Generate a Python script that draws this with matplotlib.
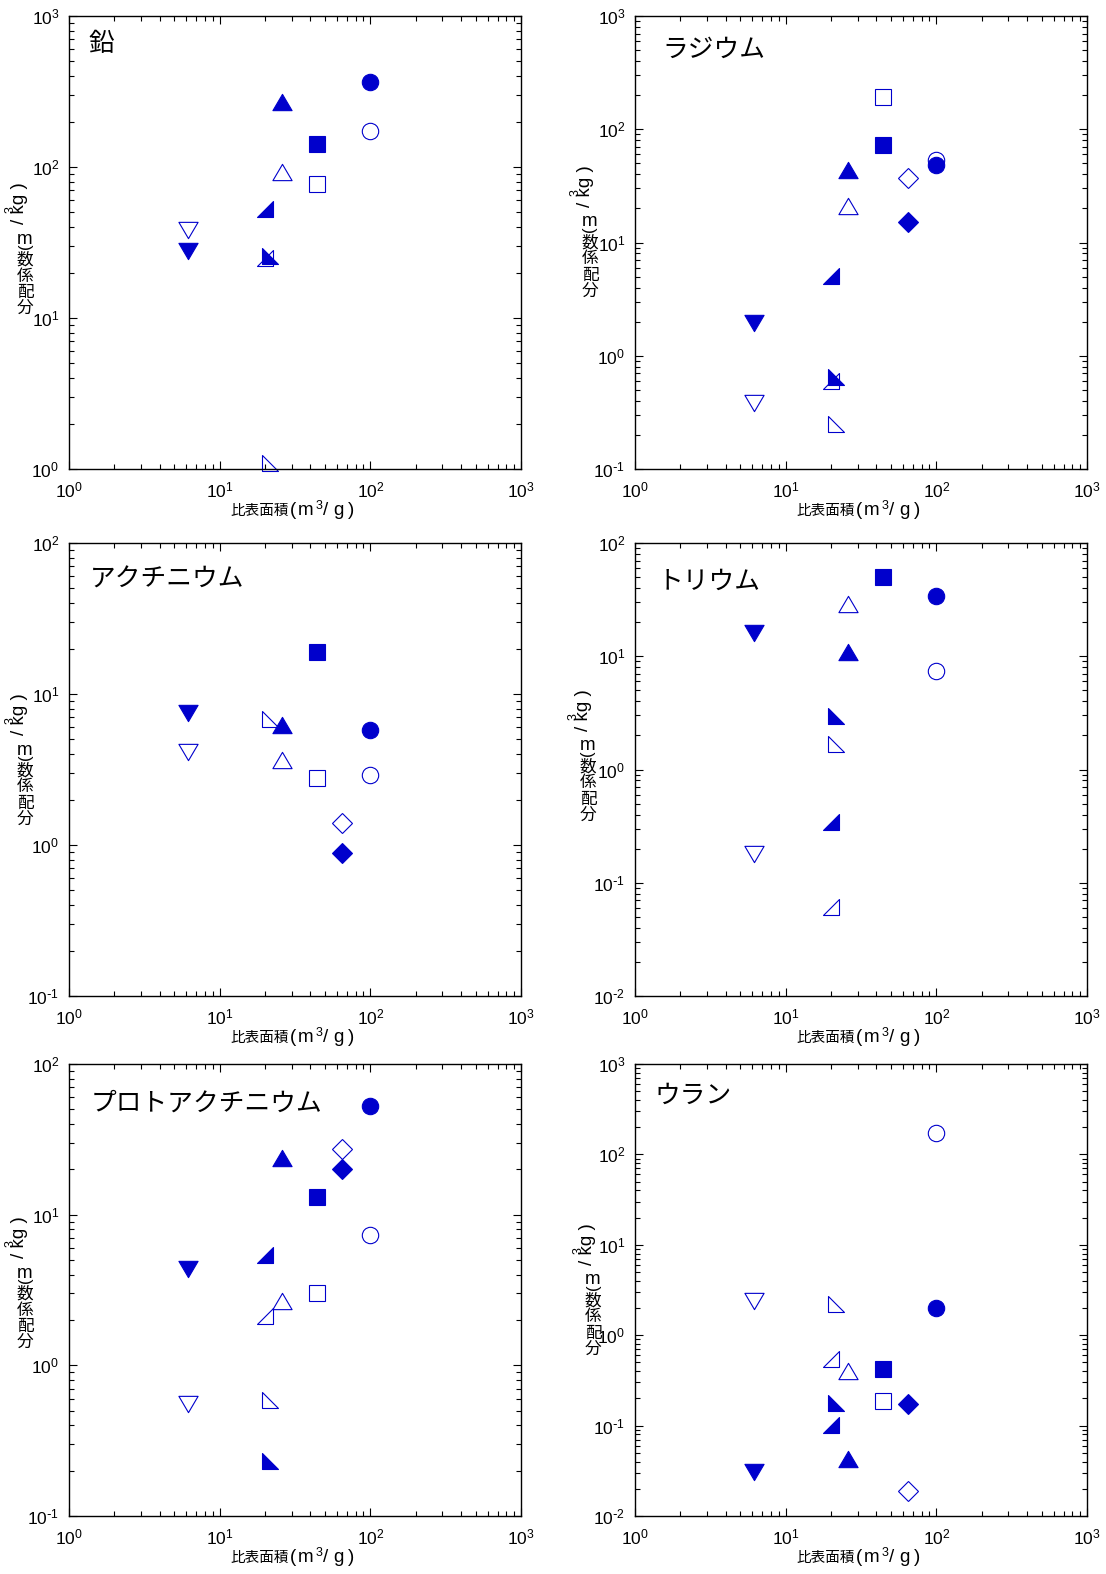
import numpy as np
import matplotlib
matplotlib.use('Agg')
import matplotlib.pyplot as plt
from matplotlib.path import Path
from matplotlib.ticker import LogLocator, NullFormatter, FuncFormatter

W, H = 1106, 1574
BLUE = '#0000CC'
JP = 'Noto Sans CJK JP'
LAT = 'Liberation Sans'

plt.rcParams['font.family'] = [LAT, JP]
plt.rcParams['axes.unicode_minus'] = False

# ---- data -------------------------------------------------------------
# marker order and the specific surface area (m3/g) each sample sits at
MARKERS = ['v', 'rt', 'lt', '^', 's', 'D', 'o']
SSA = [6.2, 20.0, 21.7, 26.0, 44.0, 65.0, 100.0]

ELEMENTS = ['鉛', 'ラジウム', 'アクチニウム', 'トリウム', 'プロトアクチニウム', 'ウラン']
YLIMS = [(1e0, 1e3), (1e-1, 1e3), (1e-1, 1e2), (1e-2, 1e2), (1e-1, 1e2), (1e-2, 1e3)]

# distribution coefficient (m3/kg), same order as MARKERS, None = no point
PB_FILLED = [27.8, 53.0, 25.8, 268, 141, None, 365]
PB_OPEN   = [38.3, 25.0, 1.09, 92, 77.5, None, 172]
RA_FILLED = [1.93, 5.05, 0.653, 44, 73, 15.2, 48.7]
RA_OPEN   = [0.385, 0.596, 0.248, 21, 191, 37.3, 54]
AC_FILLED = [7.5, None, None, 6.2, 18.9, 0.88, 5.8]
AC_OPEN   = [4.14, None, 6.86, 3.66, 2.78, 1.39, 2.91]
TH_FILLED = [16.2, 0.342, 2.98, 10.8, 49.9, None, 33.9]
TH_OPEN   = [0.178, 0.0607, 1.67, 28.8, None, None, 7.48]
PA_FILLED = [4.33, 5.37, 0.23, 23.7, 13.1, 20.0, 52.6]
PA_OPEN   = [0.556, 2.11, 0.59, 2.68, 3.0, 27.2, 7.3]
U_FILLED  = [0.0307, 0.102, 0.176, 0.0424, 0.426, 0.174, 2.02]
U_OPEN    = [2.42, 0.545, 2.2, 0.40, 0.186, 0.0189, 172]

FILLED = [PB_FILLED, RA_FILLED, AC_FILLED, TH_FILLED, PA_FILLED, U_FILLED]
OPEN = [PB_OPEN, RA_OPEN, AC_OPEN, TH_OPEN, PA_OPEN, U_OPEN]

# ---- layout (pixels) ---------------------------------------------------
COLS = [(69, 521), (635, 1087)]
ROWS = [(16, 469), (543, 996), (1064, 1516)]
TITLE_OFF = [(19, 28), (27, 34), (21, 37), (23, 39), (22, 40), (19, 32)]
YLAB_POS = [(25, 308), (590, 291), (25, 819), (588, 815), (25, 1342), (593, 1349)]

_C = Path.CLOSEPOLY
MSHAPES = {
    'v':  (Path([(0, -0.85), (-1, 0.85), (1, 0.85), (0, 0)], [1, 2, 2, _C]), 13.8),
    '^':  (Path([(0, 0.85), (-1, -0.85), (1, -0.85), (0, 0)], [1, 2, 2, _C]), 13.8),
    'rt': (Path([(-1, -1), (1, -1), (1, 1), (0, 0)], [1, 2, 2, _C]), 11.8),
    'lt': (Path([(-1, 1), (-1, -1), (1, -1), (0, 0)], [1, 2, 2, _C]), 11.8),
    's':  ('s', 11.8),
    'D':  ('D', 10.2),
    'o':  ('o', 11.8),
}


def fx(x):
    return x / W


def fy(y):
    return 1 - y / H


def pow10(v, pos):
    e = int(round(np.log10(v)))
    sup = r'\text{-}%d' % -e if e < 0 else '%d' % e
    return r'$\mathdefault{10^{%s}}$' % sup


def ylabel(fig, xc, y0):
    for i, c in enumerate(['分', '配', '係', '数']):
        fig.text(fx(xc), fy(y0 - i * 16), c, family=JP, size=12,
                 ha='center', va='center')
    fig.text(fx(xc), fy(y0 - 69), 'm', family=LAT, size=13.5,
             ha='center', va='center')
    fig.text(fx(xc), fy(y0 - 62), '(', family=LAT, size=12,
             rotation=90, ha='center', va='center')
    fig.text(fx(xc - 14), fy(y0 - 98), '3', family=LAT, size=9,
             rotation=90, ha='center', va='center')
    fig.text(fx(xc - 5), fy(y0 - 84), '/ kg )', family=LAT, size=13.5,
             rotation=90, ha='center', va='bottom')


def xlabel(fig, xc, yb):
    fig.text(fx(xc - 6), fy(yb), '比表面積', family=JP, size=10.5,
             ha='right', va='baseline')
    for ch, dx, sz, dy in [('(', -2, 13.5, 0), ('m', 10.5, 13.5, 0),
                           ('3', 23.5, 9, -6), ('/', 31, 13.5, 0),
                           ('g', 43, 13.5, 0), (')', 56, 13.5, 0)]:
        fig.text(fx(xc + dx), fy(yb + dy), ch, family=LAT, size=sz,
                 ha='center', va='baseline')


fig = plt.figure(figsize=(W / 100, H / 100), dpi=100)

for k, name in enumerate(ELEMENTS):
    r, c = divmod(k, 2)
    x0, x1 = COLS[c]
    y0, y1 = ROWS[r]
    ax = fig.add_axes([fx(x0), fy(y1), (x1 - x0) / W, (y1 - y0) / H])
    ax.set_xscale('log')
    ax.set_yscale('log')
    ax.set_xlim(1, 1e3)
    ax.set_ylim(*YLIMS[k])

    # open symbols first, filled ones on top
    for vals, filled in [(OPEN[k], False), (FILLED[k], True)]:
        for m, xv, yv in zip(MARKERS, SSA, vals):
            if yv is None:
                continue
            shape, ms = MSHAPES[m]
            ax.plot([xv], [yv], linestyle='none', marker=shape, markersize=ms,
                    markerfacecolor=BLUE if filled else 'none',
                    markeredgecolor=BLUE, markeredgewidth=0.8, clip_on=False)

    for ax_ in (ax.xaxis, ax.yaxis):
        ax_.set_major_locator(LogLocator(base=10, numticks=10))
        ax_.set_minor_locator(LogLocator(base=10, subs=range(2, 10), numticks=20))
        ax_.set_minor_formatter(NullFormatter())
        ax_.set_major_formatter(FuncFormatter(pow10))
    ax.tick_params(which='both', direction='in', top=True, right=True,
                   width=0.8, colors='black', labelsize=12.5)
    ax.tick_params(which='major', length=6)
    ax.tick_params(which='minor', length=3.5)
    ax.tick_params(axis='x', which='major', pad=8)
    ax.tick_params(axis='y', which='major', pad=7)
    for s in ax.spines.values():
        s.set_linewidth(1.0)

    tx, ty = TITLE_OFF[k]
    ax.text(tx / (x1 - x0), 1 - ty / (y1 - y0), name, family=JP, size=18.5,
            ha='left', va='center', transform=ax.transAxes)

    xlabel(fig, (x0 + x1) / 2, y1 + 46)
    ylabel(fig, *YLAB_POS[k])

fig.savefig('out.png', dpi=100)
